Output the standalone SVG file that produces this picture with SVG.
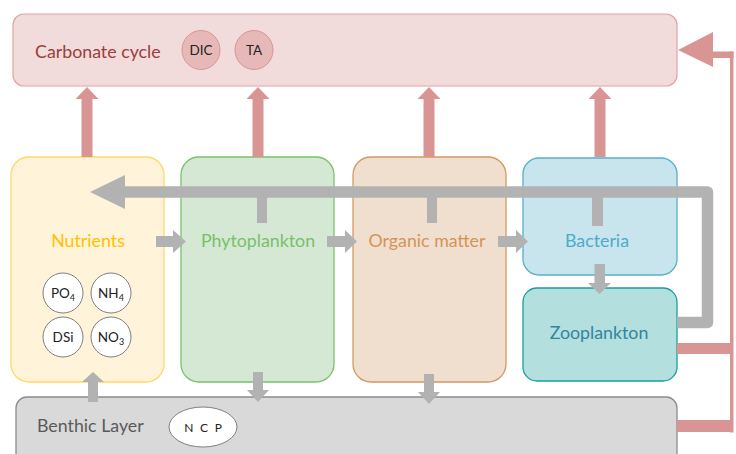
<svg xmlns="http://www.w3.org/2000/svg" width="736" height="454" viewBox="0 0 736 454">
<style>
text{font-family:Lato,"Open Sans","Liberation Sans",sans-serif}
.lbl{font-size:17.8px;text-anchor:middle}
.sm{font-size:13.5px;text-anchor:middle;fill:#222}
.sub{font-size:9px}
.red{fill:#d99594}
.gray{fill:#b2b2b2}
.nc{fill:#fff;stroke:#7f7f7f;stroke-width:1}
</style>
<rect width="736" height="454" fill="#fff"/>
<g id="carbonate">
<rect x="13" y="14" width="664" height="72" rx="11" fill="#f2dcdb" stroke="#e2a3a2" stroke-width="1.2"/>
<text x="35" y="58" font-size="17.8" fill="#9b3d3b">Carbonate cycle</text>
<ellipse cx="201" cy="50" rx="19" ry="19.5" fill="#e6b9b8" stroke="#d99594"/>
<text x="201" y="55" class="sm">DIC</text>
<ellipse cx="254" cy="50" rx="19" ry="19.5" fill="#e6b9b8" stroke="#d99594"/>
<text x="254" y="55" class="sm">TA</text>
</g>
<g id="nutrients">
<rect x="11" y="157" width="153" height="225" rx="18" fill="#fff4d9" stroke="#ffd966" stroke-width="1.3"/>
<text x="88" y="247" class="lbl" fill="#ffc000">Nutrients</text>
<circle cx="63" cy="293" r="20" class="nc"/>
<text x="63" y="298" class="sm">PO<tspan class="sub" dy="3">4</tspan></text>
<circle cx="111" cy="293" r="20" class="nc"/>
<text x="111" y="298" class="sm">NH<tspan class="sub" dy="3">4</tspan></text>
<circle cx="63" cy="337" r="20" class="nc"/>
<text x="63" y="342" class="sm">DSi</text>
<circle cx="111" cy="337" r="20" class="nc"/>
<text x="111" y="342" class="sm">NO<tspan class="sub" dy="3">3</tspan></text>
</g>
<g id="phytoplankton">
<rect x="181" y="157" width="153" height="225" rx="18" fill="#d5e8d4" stroke="#7cc16f" stroke-width="1.3"/>
<text x="258" y="247" class="lbl" fill="#77c06a">Phytoplankton</text>
</g>
<g id="organic">
<rect x="353" y="157" width="153" height="225" rx="18" fill="#f0dfcf" stroke="#d19a62" stroke-width="1.3"/>
<text x="427" y="247" class="lbl" fill="#d39457">Organic matter</text>
</g>
<g id="bacteria">
<rect x="523" y="158" width="154" height="117" rx="16" fill="#c8e5ee" stroke="#56b0cc" stroke-width="1.3"/>
<text x="597" y="247" class="lbl" fill="#4bacc6">Bacteria</text>
</g>
<g id="zooplankton">
<rect x="523" y="288" width="154" height="93" rx="14" fill="#b3dfdf" stroke="#17a0a0" stroke-width="1.3"/>
<text x="599" y="339" class="lbl" fill="#31859c">Zooplankton</text>
</g>
<g id="benthic">
<rect x="16" y="397" width="661" height="70" rx="11" fill="#d9d9d9" stroke="#8c8c8c" stroke-width="1.3"/>
<text x="37" y="432" font-size="17.8" fill="#595959">Benthic Layer</text>
<ellipse cx="203" cy="427" rx="34" ry="20" fill="#fff" stroke="#7f7f7f"/>
<text x="204" y="431.5" class="sm" style="font-size:12px;letter-spacing:1.8px">N C P</text>
</g>
<g id="connectors">
<path class="red" d="M81.5,157V99H75.5L87,87L98.5,99H92.5V157Z"/>
<path class="red" d="M252.5,157V99H246.5L258,87L269.5,99H263.5V157Z"/>
<path class="red" d="M423.5,157V99H417.5L429,87L440.5,99H434.5V157Z"/>
<path class="red" d="M594.5,157V99H588.5L600,87L611.5,99H605.5V157Z"/>
<rect class="red" x="730" y="51.5" width="3.5" height="381"/>
<path class="red" d="M678,50L713,32V51.5H733.5V58H713V67Z"/>
<rect class="red" x="677" y="343" width="56" height="11"/>
<rect class="red" x="677" y="420" width="56" height="12"/>
<path d="M124,192H707.5V322.5H677" fill="none" stroke="#b2b2b2" stroke-width="11.5" stroke-linejoin="round"/>
<path class="gray" d="M90,192L125,175V209Z"/>
<rect class="gray" x="257" y="192" width="10" height="31"/>
<rect class="gray" x="427" y="192" width="10" height="31"/>
<rect class="gray" x="592" y="192" width="11" height="34"/>
<path class="gray" d="M156,236H173V230L186,241.5L173,253V247H156Z"/>
<path class="gray" d="M327,236H345V230L357,241.5L345,253V247H327Z"/>
<path class="gray" d="M498,236H516V230L528,241.5L516,253V247H498Z"/>
<path class="gray" d="M594.5,264V283H588L599.5,294L611,283H605V264Z"/>
<path class="gray" d="M88,402V382H82L93,372L104,382H98V402Z"/>
<path class="gray" d="M253,372V390H247L258,402L269,390H263V372Z"/>
<path class="gray" d="M424,374V392H418L429,404L440,392H434V374Z"/>
</g>
</svg>
